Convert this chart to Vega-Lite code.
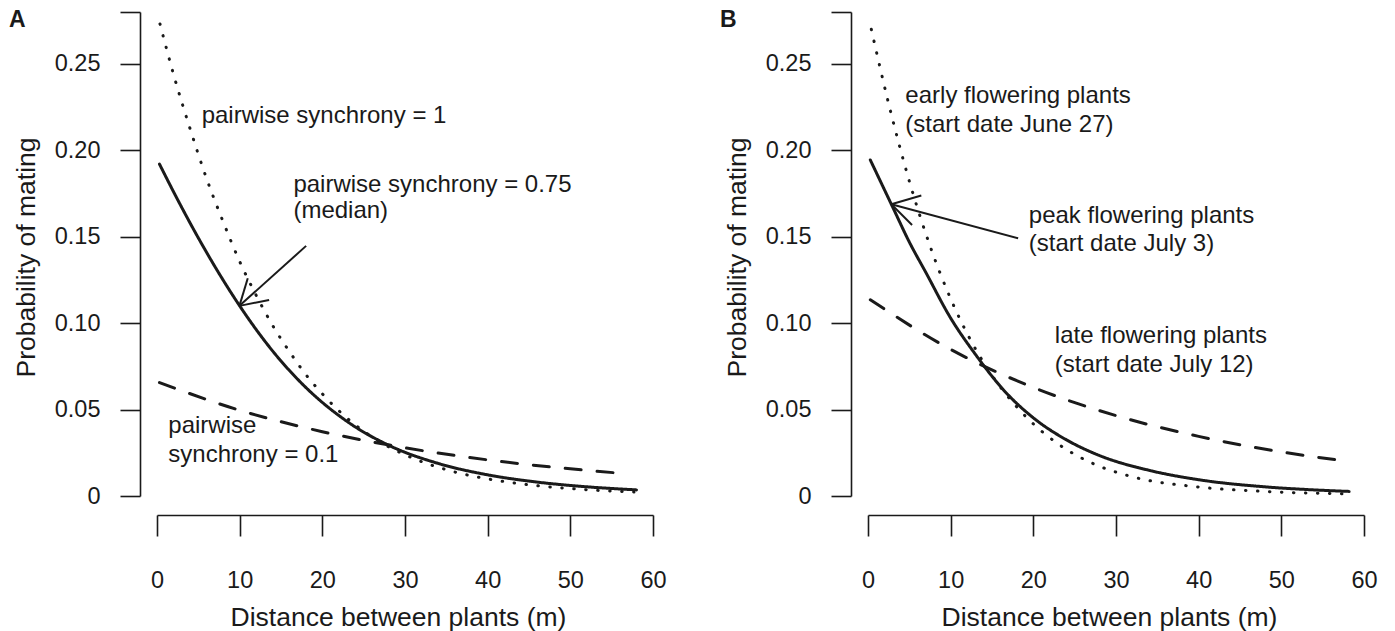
{
  "$schema": "https://vega.github.io/schema/vega-lite/v6.json",
  "padding": {"left": 8, "top": 0, "right": 5, "bottom": 0},
  "spacing": 52,
  "config": {
    "view": {"stroke": null},
    "font": "Liberation Sans",
    "axis": {
      "grid": false,
      "domainColor": "#1a1a1a",
      "tickColor": "#1a1a1a",
      "labelColor": "#1a1a1a",
      "titleColor": "#1a1a1a",
      "domainWidth": 1.6,
      "tickWidth": 1.6,
      "labelFont": "Liberation Sans",
      "titleFont": "Liberation Sans",
      "labelFontSize": 23.5,
      "titleFontSize": 26.5,
      "titleFontWeight": "normal",
      "labelFlush": false,
      "labelOverlap": false
    }
  },
  "datasets": {
    "curvesA": [
      {"s": "dotted", "x": 0.36, "y": 0.2731},
      {"s": "dotted", "x": 2, "y": 0.2439},
      {"s": "dotted", "x": 4, "y": 0.2125},
      {"s": "dotted", "x": 6, "y": 0.1836},
      {"s": "dotted", "x": 8, "y": 0.1587},
      {"s": "dotted", "x": 10, "y": 0.1357},
      {"s": "dotted", "x": 12, "y": 0.1161},
      {"s": "dotted", "x": 14, "y": 0.0986},
      {"s": "dotted", "x": 16, "y": 0.0837},
      {"s": "dotted", "x": 18, "y": 0.0703},
      {"s": "dotted", "x": 20, "y": 0.0591},
      {"s": "dotted", "x": 23, "y": 0.045},
      {"s": "dotted", "x": 26, "y": 0.0342},
      {"s": "dotted", "x": 31, "y": 0.0218},
      {"s": "dotted", "x": 36, "y": 0.0139},
      {"s": "dotted", "x": 41, "y": 0.0091},
      {"s": "dotted", "x": 46, "y": 0.00595},
      {"s": "dotted", "x": 52, "y": 0.00364},
      {"s": "dotted", "x": 57.7, "y": 0.00228},
      {"s": "solid", "x": 0.3, "y": 0.192},
      {"s": "solid", "x": 2.5, "y": 0.1714},
      {"s": "solid", "x": 5, "y": 0.1493},
      {"s": "solid", "x": 7.5, "y": 0.1288},
      {"s": "solid", "x": 10, "y": 0.11},
      {"s": "solid", "x": 14, "y": 0.0838},
      {"s": "solid", "x": 18, "y": 0.0628},
      {"s": "solid", "x": 23, "y": 0.0431},
      {"s": "solid", "x": 28, "y": 0.0294},
      {"s": "solid", "x": 34, "y": 0.01886},
      {"s": "solid", "x": 40, "y": 0.01224},
      {"s": "solid", "x": 46, "y": 0.00804},
      {"s": "solid", "x": 52, "y": 0.00532},
      {"s": "solid", "x": 58, "y": 0.00354},
      {"s": "dashed", "x": 0.3, "y": 0.0656},
      {"s": "dashed", "x": 10, "y": 0.0496},
      {"s": "dashed", "x": 20, "y": 0.0372},
      {"s": "dashed", "x": 30, "y": 0.0279},
      {"s": "dashed", "x": 40, "y": 0.0209},
      {"s": "dashed", "x": 50, "y": 0.0157},
      {"s": "dashed", "x": 57, "y": 0.0128}
    ],
    "curvesB": [
      {"s": "dotted", "x": 0.4, "y": 0.27},
      {"s": "dotted", "x": 2.5, "y": 0.2269},
      {"s": "dotted", "x": 5, "y": 0.1821},
      {"s": "dotted", "x": 7.5, "y": 0.1447},
      {"s": "dotted", "x": 10, "y": 0.1141},
      {"s": "dotted", "x": 12.5, "y": 0.0894},
      {"s": "dotted", "x": 15, "y": 0.0698},
      {"s": "dotted", "x": 19, "y": 0.0464},
      {"s": "dotted", "x": 23, "y": 0.0301},
      {"s": "dotted", "x": 27, "y": 0.01925},
      {"s": "dotted", "x": 32, "y": 0.0111},
      {"s": "dotted", "x": 40, "y": 0.0052},
      {"s": "dotted", "x": 48, "y": 0.00263},
      {"s": "dotted", "x": 57.6, "y": 0.00122},
      {"s": "solid", "x": 0.28, "y": 0.1944},
      {"s": "solid", "x": 3, "y": 0.167},
      {"s": "solid", "x": 5, "y": 0.1469},
      {"s": "solid", "x": 7, "y": 0.1293},
      {"s": "solid", "x": 10, "y": 0.1029},
      {"s": "solid", "x": 13, "y": 0.0819},
      {"s": "solid", "x": 16.5, "y": 0.0608},
      {"s": "solid", "x": 20, "y": 0.0452},
      {"s": "solid", "x": 24, "y": 0.0325},
      {"s": "solid", "x": 28, "y": 0.0234},
      {"s": "solid", "x": 34, "y": 0.01486},
      {"s": "solid", "x": 40, "y": 0.00942},
      {"s": "solid", "x": 48, "y": 0.0053},
      {"s": "solid", "x": 53, "y": 0.00377},
      {"s": "solid", "x": 58.2, "y": 0.00265},
      {"s": "dashed", "x": 0.28, "y": 0.1135},
      {"s": "dashed", "x": 10, "y": 0.0848},
      {"s": "dashed", "x": 20, "y": 0.0628},
      {"s": "dashed", "x": 30, "y": 0.0465},
      {"s": "dashed", "x": 40, "y": 0.0345},
      {"s": "dashed", "x": 50, "y": 0.0255},
      {"s": "dashed", "x": 58.2, "y": 0.02}
    ],
    "textA": [
      {"x": 5.4, "y": 0.2197, "text": "pairwise synchrony = 1"},
      {"x": 16.5, "y": 0.1802, "text": "pairwise synchrony = 0.75"},
      {"x": 16.5, "y": 0.1648, "text": "(median)"},
      {"x": 1.37, "y": 0.0403, "text": "pairwise"},
      {"x": 1.37, "y": 0.024, "text": "synchrony = 0.1"}
    ],
    "textB": [
      {"x": 4.52, "y": 0.2313, "text": "early flowering plants"},
      {"x": 4.52, "y": 0.2149, "text": "(start date June 27)"},
      {"x": 19.45, "y": 0.1619, "text": "peak flowering plants"},
      {"x": 19.45, "y": 0.1455, "text": "(start date July 3)"},
      {"x": 22.6, "y": 0.0924, "text": "late flowering plants"},
      {"x": 22.6, "y": 0.0755, "text": "(start date July 12)"}
    ],
    "arrowsA": [
      {"x": 18.04, "y": 0.1447, "x2": 9.97, "y2": 0.11},
      {"x": 9.97, "y": 0.11, "x2": 10.98, "y2": 0.126},
      {"x": 9.97, "y": 0.11, "x2": 13.56, "y2": 0.1134}
    ],
    "arrowsB": [
      {"x": 18.16, "y": 0.1491, "x2": 2.82, "y2": 0.1688},
      {"x": 2.82, "y": 0.1688, "x2": 6.45, "y2": 0.1738},
      {"x": 2.82, "y": 0.1688, "x2": 5.33, "y2": 0.1568}
    ],
    "letterA": [{"x": -16.9, "y": 0.2755, "text": "A"}],
    "letterB": [{"x": -16.9, "y": 0.2755, "text": "B"}]
  },
  "hconcat": [
    {
      "width": 496,
      "height": 484,
      "encoding": {
        "x": {
          "field": "x", "type": "quantitative",
          "scale": {"domain": [0, 60], "nice": false, "zero": false},
          "title": "Distance between plants (m)",
          "axis": {"values": [0, 10, 20, 30, 40, 50, 60], "offset": 19, "tickSize": 21, "labelPadding": 32.5, "titlePadding": 12, "titleX": 241}
        },
        "y": {
          "field": "y", "type": "quantitative",
          "scale": {"domain": [0, 0.28], "nice": false},
          "title": "Probability of mating",
          "axis": {"values": [0, 0.05, 0.1, 0.15, 0.2, 0.25, 0.28], "offset": 17, "tickSize": 20, "labelPadding": 20, "titlePadding": 14, "titleY": 245,
            "labelExpr": "datum.value == 0 ? '0' : (datum.value > 0.26 ? '' : format(datum.value, '.2f'))"}
        }
      },
      "layer": [
        {
          "data": {"name": "curvesA"},
          "mark": {"type": "line", "strokeWidth": 3, "strokeCap": "round", "interpolate": "monotone", "color": "#1a1a1a"},
          "encoding": {
            "strokeDash": {"field": "s", "type": "nominal", "legend": null,
              "scale": {"domain": ["solid", "dashed", "dotted"], "range": [[1, 0], [16, 16], [0.5, 11.5]]}}
          }
        },
        {
          "data": {"name": "arrowsA"},
          "mark": {"type": "rule", "strokeWidth": 2, "color": "#1a1a1a"},
          "encoding": {"x2": {"field": "x2"}, "y2": {"field": "y2"}}
        },
        {
          "data": {"name": "textA"},
          "mark": {"type": "text", "align": "left", "baseline": "middle", "fontSize": 24, "font": "Liberation Sans", "color": "#1a1a1a"},
          "encoding": {"text": {"field": "text"}}
        },
        {
          "data": {"name": "letterA"},
          "mark": {"type": "text", "align": "center", "baseline": "middle", "fontSize": 23, "fontWeight": "bold", "font": "Liberation Sans", "color": "#1a1a1a"},
          "encoding": {"text": {"field": "text"}}
        }
      ]
    },
    {
      "width": 496,
      "height": 484,
      "encoding": {
        "x": {
          "field": "x", "type": "quantitative",
          "scale": {"domain": [0, 60], "nice": false, "zero": false},
          "title": "Distance between plants (m)",
          "axis": {"values": [0, 10, 20, 30, 40, 50, 60], "offset": 19, "tickSize": 21, "labelPadding": 32.5, "titlePadding": 12, "titleX": 241}
        },
        "y": {
          "field": "y", "type": "quantitative",
          "scale": {"domain": [0, 0.28], "nice": false},
          "title": "Probability of mating",
          "axis": {"values": [0, 0.05, 0.1, 0.15, 0.2, 0.25, 0.28], "offset": 17, "tickSize": 20, "labelPadding": 20, "titlePadding": 14, "titleY": 245,
            "labelExpr": "datum.value == 0 ? '0' : (datum.value > 0.26 ? '' : format(datum.value, '.2f'))"}
        }
      },
      "layer": [
        {
          "data": {"name": "curvesB"},
          "mark": {"type": "line", "strokeWidth": 3, "strokeCap": "round", "interpolate": "monotone", "color": "#1a1a1a"},
          "encoding": {
            "strokeDash": {"field": "s", "type": "nominal", "legend": null,
              "scale": {"domain": ["solid", "dashed", "dotted"], "range": [[1, 0], [16, 16], [0.5, 11.5]]}}
          }
        },
        {
          "data": {"name": "arrowsB"},
          "mark": {"type": "rule", "strokeWidth": 2, "color": "#1a1a1a"},
          "encoding": {"x2": {"field": "x2"}, "y2": {"field": "y2"}}
        },
        {
          "data": {"name": "textB"},
          "mark": {"type": "text", "align": "left", "baseline": "middle", "fontSize": 24, "font": "Liberation Sans", "color": "#1a1a1a"},
          "encoding": {"text": {"field": "text"}}
        },
        {
          "data": {"name": "letterB"},
          "mark": {"type": "text", "align": "center", "baseline": "middle", "fontSize": 23, "fontWeight": "bold", "font": "Liberation Sans", "color": "#1a1a1a"},
          "encoding": {"text": {"field": "text"}}
        }
      ]
    }
  ]
}
